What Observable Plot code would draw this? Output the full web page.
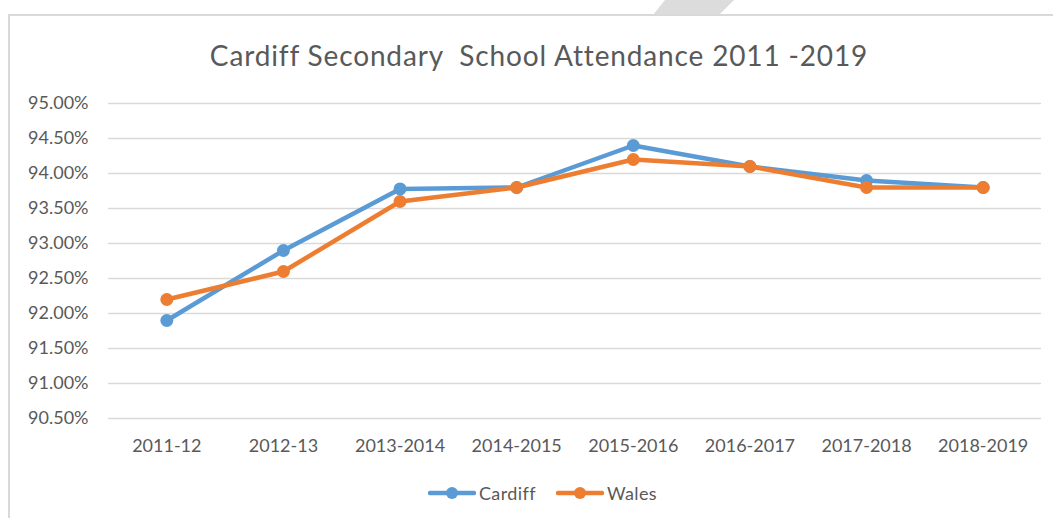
<!DOCTYPE html>
<html>
<head>
<meta charset="utf-8">
<script src="https://cdn.jsdelivr.net/npm/d3@7"></script>
<script src="https://cdn.jsdelivr.net/npm/@observablehq/plot@0.6"></script>
<style>
  html, body { margin: 0; padding: 0; background: #fff; }
  body { width: 1053px; height: 518px; position: relative; overflow: hidden; font-family: Lato, "Liberation Sans", sans-serif; color: #595959; }
  #frame { position: absolute; left: 8px; top: 14px; width: 1100px; height: 600px; border-left: 2px solid #d9d9d9; border-top: 2px solid #d9d9d9; box-sizing: border-box; }
  #deco { position: absolute; left: 0; top: 0; }
  #title { position: absolute; left: 539px; top: 39px; transform: translateX(-50%); font-size: 28px; letter-spacing: 0.85px; line-height: 1.2; white-space: pre; color: #595959; }
  #chart { position: absolute; left: 0; top: 0; }
  #legend { position: absolute; left: 0; top: 481px; width: 1085px; display: flex; justify-content: center; gap: 20px; font-size: 18px; letter-spacing: 0.4px; line-height: 24px; }
  #legend .item { display: flex; align-items: center; gap: 3px; }
</style>
</head>
<body>
<svg id="deco" width="1053" height="20"><polygon points="665,0 734,0 719,15 653,15" fill="#dcdcdc"/></svg>
<div id="frame"></div>
<div id="chart"></div>
<div id="title">Cardiff Secondary  School Attendance 2011 -2019</div>
<div id="legend"></div>
<script>
const categories = ["2011-12", "2012-13", "2013-2014", "2014-2015", "2015-2016", "2016-2017", "2017-2018", "2018-2019"];
const cardiff = [91.9, 92.9, 93.78, 93.8, 94.4, 94.1, 93.9, 93.8];
const wales = [92.2, 92.6, 93.6, 93.8, 94.2, 94.1, 93.8, 93.8];
const yTicks = [90.5, 91, 91.5, 92, 92.5, 93, 93.5, 94, 94.5, 95];
const seriesNames = ["Cardiff", "Wales"];
const seriesColors = ["#5B9BD5", "#ED7D31"];

const seriesValues = [cardiff, wales];
const tables = seriesValues.map((vals, s) => categories.map((c, i) => ({year: c, series: seriesNames[s], value: vals[i]})));

const fmt = d => d.toFixed(2) + "%";

const seriesMarks = tables.flatMap((t, s) => [
  Plot.line(t, {x: "year", y: "value", stroke: seriesColors[s], strokeWidth: 4.5, strokeLinejoin: "round", strokeLinecap: "round"}),
  Plot.dot(t, {x: "year", y: "value", fill: seriesColors[s], r: 6.5, stroke: "none"})
]);

const chart = Plot.plot({
  width: 1053,
  height: 518,
  marginTop: 103,
  marginBottom: 100,
  marginLeft: 108,
  marginRight: 12,
  style: {background: "transparent", fontFamily: "Lato, 'Liberation Sans', sans-serif", color: "#595959"},
  x: {type: "point", domain: categories, padding: 0.5, round: false, label: null},
  y: {domain: [90.5, 95], label: null},
  marks: [
    Plot.gridY(yTicks, {stroke: "#d9d9d9", strokeOpacity: 1, strokeWidth: 1.6}),
    Plot.axisY(yTicks, {tickSize: 0, tickPadding: 20, tickFormat: fmt, fontSize: 18, fill: "#595959", label: null}),
    Plot.axisX({tickSize: 0, tickPadding: 21, fontSize: 18, fill: "#595959", label: null}),
    ...seriesMarks
  ]
});
document.getElementById("chart").appendChild(chart);

const legend = document.getElementById("legend");
seriesNames.forEach((name, i) => {
  const item = document.createElement("div");
  item.className = "item";
  item.innerHTML = `<svg width="48" height="16"><line x1="2" y1="8" x2="46" y2="8" stroke="${seriesColors[i]}" stroke-width="4.5" stroke-linecap="round"/><circle cx="24" cy="8" r="6" fill="${seriesColors[i]}"/></svg><span>${name}</span>`;
  legend.appendChild(item);
});
</script>
</body>
</html>
